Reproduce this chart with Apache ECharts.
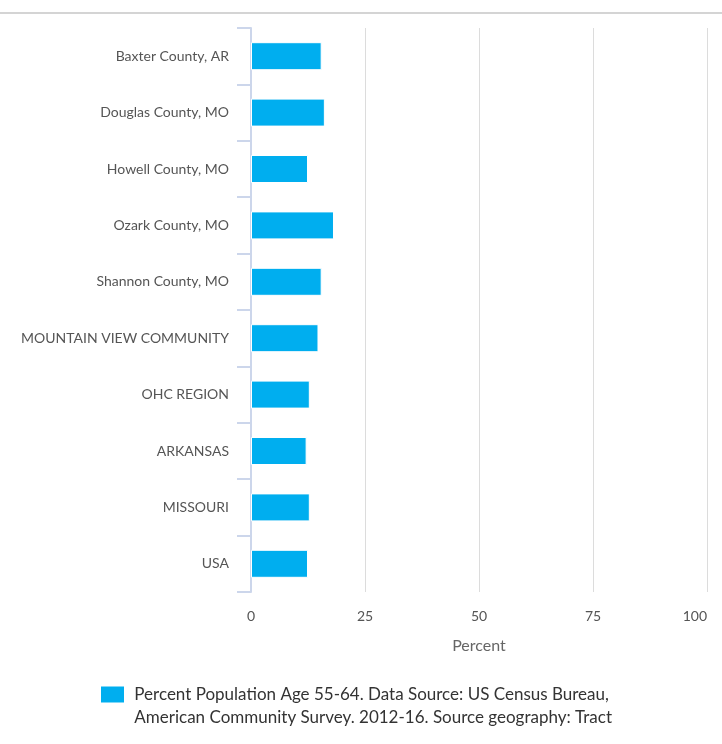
<!DOCTYPE html>
<html><head><meta charset="utf-8">
<script src="https://cdn.jsdelivr.net/npm/echarts@6/dist/echarts.min.js"></script>
<style>html,body{margin:0;padding:0;background:#fff}#c{width:722px;height:744px}</style>
</head><body><div id="c"></div>
<script>
const categories = ["Baxter County, AR","Douglas County, MO","Howell County, MO","Ozark County, MO","Shannon County, MO","MOUNTAIN VIEW COMMUNITY","OHC REGION","ARKANSAS","MISSOURI","USA"];
const values = [15.5, 16.2, 12.5, 18.2, 15.5, 14.8, 12.9, 12.2, 12.9, 12.5];
const xTicks = [0, 25, 50, 75, 100];
const seriesName = "Percent Population Age 55-64. Data Source: US Census Bureau,\nAmerican Community Survey. 2012-16. Source geography: Tract";
const font = "Lato, 'Noto Sans', sans-serif";
const chart = echarts.init(document.getElementById('c'));
chart.setOption({
  animation: false,
  textStyle: {fontFamily: font},
  graphic: [{type:'line', shape:{x1:0,y1:13,x2:722,y2:13}, style:{stroke:'#d4d4d4', lineWidth:2}}],
  grid: {left: 251, right: 15, top: 28, bottom: 152, containLabel: false},
  xAxis: {
    type: 'value', min: xTicks[0], max: xTicks[xTicks.length-1], interval: 25,
    name: 'Percent', nameLocation: 'middle', nameGap: 46,
    nameTextStyle: {fontSize: 16, color: '#666', fontFamily: font},
    axisLine: {show: false}, axisTick: {show: false},
    axisLabel: {fontSize: 14, color: '#555', margin: 17, fontFamily: font, alignMaxLabel: 'right'},
    splitLine: {show: true, lineStyle: {color: '#dcdcdc', width: 1}}
  },
  yAxis: {
    type: 'category', data: categories, inverse: true,
    axisLine: {show: true, lineStyle: {color: '#ccd6eb', width: 2}},
    axisTick: {show: true, length: 14, lineStyle: {color: '#ccd6eb', width: 2}},
    axisLabel: {fontSize: 14, color: '#555', margin: 22, fontFamily: font},
    splitLine: {show: false}
  },
  legend: {
    left: 99, top: 660, padding: 0, itemWidth: 25, itemHeight: 18, itemGap: 10,
    icon: 'rect',
    formatter: function (n) { return '\n' + n.split('\n').map(function (s) { return ' ' + s; }).join('\n'); },
    textStyle: {fontSize: 17, color: '#333', lineHeight: 23, fontFamily: font},
    data: [seriesName]
  },
  series: [{
    type: 'bar', name: seriesName, data: values, barWidth: 28,
    itemStyle: {color: '#00aeef', borderColor: '#ffffff', borderWidth: 1}
  }]
});
</script></body></html>
